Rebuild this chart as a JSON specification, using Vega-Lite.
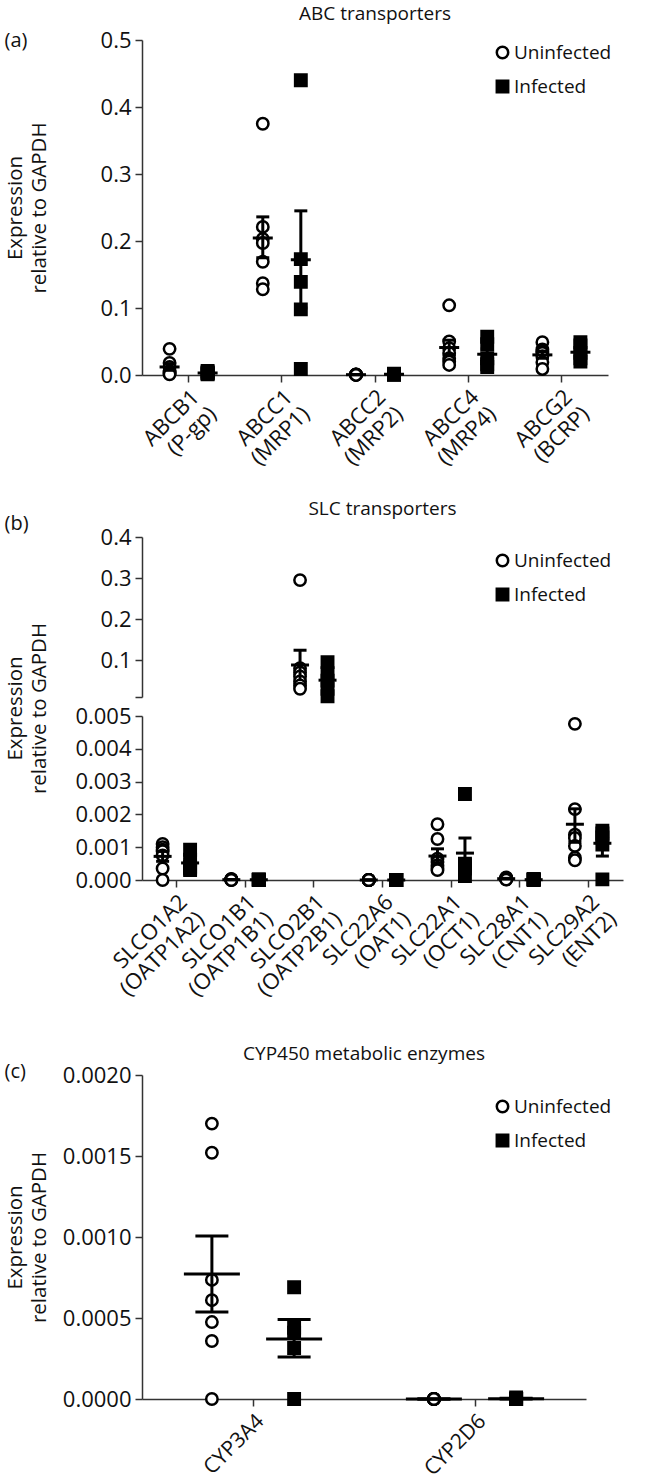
{
  "$schema": "https://vega.github.io/schema/vega-lite/v6.json",
  "padding": {"left": 4, "top": 5, "right": 5, "bottom": 0},
  "config": {
    "font": "Open Sans",
    "view": {"stroke": null},
    "axis": {"grid": false, "domainColor": "#333", "domainWidth": 1.5, "tickColor": "#333", "tickWidth": 1.5, "tickSize": 7, "labelFontSize": 22, "labelColor": "#111", "labelPadding": 4, "titleFontWeight": "normal", "titleColor": "#111"},
    "title": {"fontSize": 19, "fontWeight": "normal", "color": "#111", "anchor": "middle", "offset": 5},
    "legend": {"symbolSize": 130, "symbolStrokeWidth": 2.5, "symbolStrokeColor": "black", "labelFontSize": 19, "labelColor": "#111", "rowPadding": 11, "labelOffset": 2, "padding": 0}
  },
  "datasets": {
    "a": [
      {"gene": "ABCB1\n(P-gp)", "group": "Uninfected", "value": 0.039},
      {"gene": "ABCB1\n(P-gp)", "group": "Uninfected", "value": 0.018},
      {"gene": "ABCB1\n(P-gp)", "group": "Uninfected", "value": 0.012},
      {"gene": "ABCB1\n(P-gp)", "group": "Uninfected", "value": 0.006},
      {"gene": "ABCB1\n(P-gp)", "group": "Uninfected", "value": 0.004},
      {"gene": "ABCB1\n(P-gp)", "group": "Uninfected", "value": 0.002},
      {"gene": "ABCB1\n(P-gp)", "group": "Uninfected", "value": 0.001},
      {"gene": "ABCB1\n(P-gp)", "group": "Infected", "value": 0.006},
      {"gene": "ABCB1\n(P-gp)", "group": "Infected", "value": 0.004},
      {"gene": "ABCB1\n(P-gp)", "group": "Infected", "value": 0.003},
      {"gene": "ABCB1\n(P-gp)", "group": "Infected", "value": 0.002},
      {"gene": "ABCB1\n(P-gp)", "group": "Infected", "value": 0.001},
      {"gene": "ABCC1\n(MRP1)", "group": "Uninfected", "value": 0.375},
      {"gene": "ABCC1\n(MRP1)", "group": "Uninfected", "value": 0.221},
      {"gene": "ABCC1\n(MRP1)", "group": "Uninfected", "value": 0.203},
      {"gene": "ABCC1\n(MRP1)", "group": "Uninfected", "value": 0.197},
      {"gene": "ABCC1\n(MRP1)", "group": "Uninfected", "value": 0.169},
      {"gene": "ABCC1\n(MRP1)", "group": "Uninfected", "value": 0.137},
      {"gene": "ABCC1\n(MRP1)", "group": "Uninfected", "value": 0.128},
      {"gene": "ABCC1\n(MRP1)", "group": "Infected", "value": 0.44},
      {"gene": "ABCC1\n(MRP1)", "group": "Infected", "value": 0.173},
      {"gene": "ABCC1\n(MRP1)", "group": "Infected", "value": 0.139},
      {"gene": "ABCC1\n(MRP1)", "group": "Infected", "value": 0.098},
      {"gene": "ABCC1\n(MRP1)", "group": "Infected", "value": 0.009},
      {"gene": "ABCC2\n(MRP2)", "group": "Uninfected", "value": 0.001},
      {"gene": "ABCC2\n(MRP2)", "group": "Uninfected", "value": 0.001},
      {"gene": "ABCC2\n(MRP2)", "group": "Uninfected", "value": 0.0005},
      {"gene": "ABCC2\n(MRP2)", "group": "Uninfected", "value": 0.0005},
      {"gene": "ABCC2\n(MRP2)", "group": "Uninfected", "value": 0.0003},
      {"gene": "ABCC2\n(MRP2)", "group": "Uninfected", "value": 0.0002},
      {"gene": "ABCC2\n(MRP2)", "group": "Uninfected", "value": 0.0001},
      {"gene": "ABCC2\n(MRP2)", "group": "Infected", "value": 0.002},
      {"gene": "ABCC2\n(MRP2)", "group": "Infected", "value": 0.0015},
      {"gene": "ABCC2\n(MRP2)", "group": "Infected", "value": 0.001},
      {"gene": "ABCC2\n(MRP2)", "group": "Infected", "value": 0.0005},
      {"gene": "ABCC2\n(MRP2)", "group": "Infected", "value": 0.0003},
      {"gene": "ABCC4\n(MRP4)", "group": "Uninfected", "value": 0.104},
      {"gene": "ABCC4\n(MRP4)", "group": "Uninfected", "value": 0.05},
      {"gene": "ABCC4\n(MRP4)", "group": "Uninfected", "value": 0.04},
      {"gene": "ABCC4\n(MRP4)", "group": "Uninfected", "value": 0.033},
      {"gene": "ABCC4\n(MRP4)", "group": "Uninfected", "value": 0.025},
      {"gene": "ABCC4\n(MRP4)", "group": "Uninfected", "value": 0.02},
      {"gene": "ABCC4\n(MRP4)", "group": "Uninfected", "value": 0.015},
      {"gene": "ABCC4\n(MRP4)", "group": "Infected", "value": 0.057},
      {"gene": "ABCC4\n(MRP4)", "group": "Infected", "value": 0.046},
      {"gene": "ABCC4\n(MRP4)", "group": "Infected", "value": 0.025},
      {"gene": "ABCC4\n(MRP4)", "group": "Infected", "value": 0.016},
      {"gene": "ABCC4\n(MRP4)", "group": "Infected", "value": 0.012},
      {"gene": "ABCG2\n(BCRP)", "group": "Uninfected", "value": 0.049},
      {"gene": "ABCG2\n(BCRP)", "group": "Uninfected", "value": 0.038},
      {"gene": "ABCG2\n(BCRP)", "group": "Uninfected", "value": 0.035},
      {"gene": "ABCG2\n(BCRP)", "group": "Uninfected", "value": 0.033},
      {"gene": "ABCG2\n(BCRP)", "group": "Uninfected", "value": 0.028},
      {"gene": "ABCG2\n(BCRP)", "group": "Uninfected", "value": 0.019},
      {"gene": "ABCG2\n(BCRP)", "group": "Uninfected", "value": 0.009},
      {"gene": "ABCG2\n(BCRP)", "group": "Infected", "value": 0.049},
      {"gene": "ABCG2\n(BCRP)", "group": "Infected", "value": 0.044},
      {"gene": "ABCG2\n(BCRP)", "group": "Infected", "value": 0.033},
      {"gene": "ABCG2\n(BCRP)", "group": "Infected", "value": 0.025},
      {"gene": "ABCG2\n(BCRP)", "group": "Infected", "value": 0.02}
    ],
    "a_s": [
      {"gene": "ABCB1\n(P-gp)", "group": "Uninfected", "mean": 0.012, "lo": 0.007, "hi": 0.017},
      {"gene": "ABCB1\n(P-gp)", "group": "Infected", "mean": 0.003, "lo": 0.002, "hi": 0.004},
      {"gene": "ABCC1\n(MRP1)", "group": "Uninfected", "mean": 0.2045, "lo": 0.175, "hi": 0.236},
      {"gene": "ABCC1\n(MRP1)", "group": "Infected", "mean": 0.172, "lo": 0.1, "hi": 0.245},
      {"gene": "ABCC2\n(MRP2)", "group": "Uninfected", "mean": 0.0005, "lo": 0.0003, "hi": 0.0007},
      {"gene": "ABCC2\n(MRP2)", "group": "Infected", "mean": 0.001, "lo": 0.0007, "hi": 0.0013},
      {"gene": "ABCC4\n(MRP4)", "group": "Uninfected", "mean": 0.041, "lo": 0.03, "hi": 0.052},
      {"gene": "ABCC4\n(MRP4)", "group": "Infected", "mean": 0.031, "lo": 0.023, "hi": 0.039},
      {"gene": "ABCG2\n(BCRP)", "group": "Uninfected", "mean": 0.03, "lo": 0.025, "hi": 0.035},
      {"gene": "ABCG2\n(BCRP)", "group": "Infected", "mean": 0.034, "lo": 0.029, "hi": 0.04}
    ],
    "b": [
      {"gene": "SLCO1A2\n(OATP1A2)", "group": "Uninfected", "value": 0.0011},
      {"gene": "SLCO1A2\n(OATP1A2)", "group": "Uninfected", "value": 0.001},
      {"gene": "SLCO1A2\n(OATP1A2)", "group": "Uninfected", "value": 0.00092},
      {"gene": "SLCO1A2\n(OATP1A2)", "group": "Uninfected", "value": 0.00088},
      {"gene": "SLCO1A2\n(OATP1A2)", "group": "Uninfected", "value": 0.00075},
      {"gene": "SLCO1A2\n(OATP1A2)", "group": "Uninfected", "value": 0.00035},
      {"gene": "SLCO1A2\n(OATP1A2)", "group": "Uninfected", "value": 0.0},
      {"gene": "SLCO1A2\n(OATP1A2)", "group": "Infected", "value": 0.00092},
      {"gene": "SLCO1A2\n(OATP1A2)", "group": "Infected", "value": 0.00062},
      {"gene": "SLCO1A2\n(OATP1A2)", "group": "Infected", "value": 0.0004},
      {"gene": "SLCO1A2\n(OATP1A2)", "group": "Infected", "value": 0.00035},
      {"gene": "SLCO1A2\n(OATP1A2)", "group": "Infected", "value": 0.0003},
      {"gene": "SLCO1B1\n(OATP1B1)", "group": "Uninfected", "value": 0.00003},
      {"gene": "SLCO1B1\n(OATP1B1)", "group": "Uninfected", "value": 0.00002},
      {"gene": "SLCO1B1\n(OATP1B1)", "group": "Uninfected", "value": 0.00002},
      {"gene": "SLCO1B1\n(OATP1B1)", "group": "Uninfected", "value": 0.00001},
      {"gene": "SLCO1B1\n(OATP1B1)", "group": "Uninfected", "value": 0.00001},
      {"gene": "SLCO1B1\n(OATP1B1)", "group": "Uninfected", "value": 0.0},
      {"gene": "SLCO1B1\n(OATP1B1)", "group": "Uninfected", "value": 0.0},
      {"gene": "SLCO1B1\n(OATP1B1)", "group": "Infected", "value": 0.00002},
      {"gene": "SLCO1B1\n(OATP1B1)", "group": "Infected", "value": 0.00001},
      {"gene": "SLCO1B1\n(OATP1B1)", "group": "Infected", "value": 0.00001},
      {"gene": "SLCO1B1\n(OATP1B1)", "group": "Infected", "value": 0.0},
      {"gene": "SLCO1B1\n(OATP1B1)", "group": "Infected", "value": 0.0},
      {"gene": "SLCO2B1\n(OATP2B1)", "group": "Uninfected", "value": 0.295},
      {"gene": "SLCO2B1\n(OATP2B1)", "group": "Uninfected", "value": 0.08},
      {"gene": "SLCO2B1\n(OATP2B1)", "group": "Uninfected", "value": 0.07},
      {"gene": "SLCO2B1\n(OATP2B1)", "group": "Uninfected", "value": 0.06},
      {"gene": "SLCO2B1\n(OATP2B1)", "group": "Uninfected", "value": 0.048},
      {"gene": "SLCO2B1\n(OATP2B1)", "group": "Uninfected", "value": 0.038},
      {"gene": "SLCO2B1\n(OATP2B1)", "group": "Uninfected", "value": 0.03},
      {"gene": "SLCO2B1\n(OATP2B1)", "group": "Infected", "value": 0.095},
      {"gene": "SLCO2B1\n(OATP2B1)", "group": "Infected", "value": 0.068},
      {"gene": "SLCO2B1\n(OATP2B1)", "group": "Infected", "value": 0.05},
      {"gene": "SLCO2B1\n(OATP2B1)", "group": "Infected", "value": 0.03},
      {"gene": "SLCO2B1\n(OATP2B1)", "group": "Infected", "value": 0.012},
      {"gene": "SLC22A6\n(OAT1)", "group": "Uninfected", "value": 0.0},
      {"gene": "SLC22A6\n(OAT1)", "group": "Uninfected", "value": 0.0},
      {"gene": "SLC22A6\n(OAT1)", "group": "Uninfected", "value": 0.0},
      {"gene": "SLC22A6\n(OAT1)", "group": "Uninfected", "value": 0.0},
      {"gene": "SLC22A6\n(OAT1)", "group": "Uninfected", "value": 0.0},
      {"gene": "SLC22A6\n(OAT1)", "group": "Uninfected", "value": 0.0},
      {"gene": "SLC22A6\n(OAT1)", "group": "Uninfected", "value": 0.0},
      {"gene": "SLC22A6\n(OAT1)", "group": "Infected", "value": 0.0},
      {"gene": "SLC22A6\n(OAT1)", "group": "Infected", "value": 0.0},
      {"gene": "SLC22A6\n(OAT1)", "group": "Infected", "value": 0.0},
      {"gene": "SLC22A6\n(OAT1)", "group": "Infected", "value": 0.0},
      {"gene": "SLC22A6\n(OAT1)", "group": "Infected", "value": 0.0},
      {"gene": "SLC22A1\n(OCT1)", "group": "Uninfected", "value": 0.0017},
      {"gene": "SLC22A1\n(OCT1)", "group": "Uninfected", "value": 0.00125},
      {"gene": "SLC22A1\n(OCT1)", "group": "Uninfected", "value": 0.00065},
      {"gene": "SLC22A1\n(OCT1)", "group": "Uninfected", "value": 0.00055},
      {"gene": "SLC22A1\n(OCT1)", "group": "Uninfected", "value": 0.00045},
      {"gene": "SLC22A1\n(OCT1)", "group": "Uninfected", "value": 0.00035},
      {"gene": "SLC22A1\n(OCT1)", "group": "Uninfected", "value": 0.0003},
      {"gene": "SLC22A1\n(OCT1)", "group": "Infected", "value": 0.00262},
      {"gene": "SLC22A1\n(OCT1)", "group": "Infected", "value": 0.0005},
      {"gene": "SLC22A1\n(OCT1)", "group": "Infected", "value": 0.00045},
      {"gene": "SLC22A1\n(OCT1)", "group": "Infected", "value": 0.00035},
      {"gene": "SLC22A1\n(OCT1)", "group": "Infected", "value": 0.00012},
      {"gene": "SLC28A1\n(CNT1)", "group": "Uninfected", "value": 0.00008},
      {"gene": "SLC28A1\n(CNT1)", "group": "Uninfected", "value": 0.00006},
      {"gene": "SLC28A1\n(CNT1)", "group": "Uninfected", "value": 0.00005},
      {"gene": "SLC28A1\n(CNT1)", "group": "Uninfected", "value": 0.00004},
      {"gene": "SLC28A1\n(CNT1)", "group": "Uninfected", "value": 0.00003},
      {"gene": "SLC28A1\n(CNT1)", "group": "Uninfected", "value": 0.00002},
      {"gene": "SLC28A1\n(CNT1)", "group": "Uninfected", "value": 0.00001},
      {"gene": "SLC28A1\n(CNT1)", "group": "Infected", "value": 0.00003},
      {"gene": "SLC28A1\n(CNT1)", "group": "Infected", "value": 0.00002},
      {"gene": "SLC28A1\n(CNT1)", "group": "Infected", "value": 0.00001},
      {"gene": "SLC28A1\n(CNT1)", "group": "Infected", "value": 0.00001},
      {"gene": "SLC28A1\n(CNT1)", "group": "Infected", "value": 0.0},
      {"gene": "SLC29A2\n(ENT2)", "group": "Uninfected", "value": 0.00476},
      {"gene": "SLC29A2\n(ENT2)", "group": "Uninfected", "value": 0.00216},
      {"gene": "SLC29A2\n(ENT2)", "group": "Uninfected", "value": 0.00138},
      {"gene": "SLC29A2\n(ENT2)", "group": "Uninfected", "value": 0.00128},
      {"gene": "SLC29A2\n(ENT2)", "group": "Uninfected", "value": 0.00104},
      {"gene": "SLC29A2\n(ENT2)", "group": "Uninfected", "value": 0.00068},
      {"gene": "SLC29A2\n(ENT2)", "group": "Uninfected", "value": 0.0006},
      {"gene": "SLC29A2\n(ENT2)", "group": "Infected", "value": 0.0015},
      {"gene": "SLC29A2\n(ENT2)", "group": "Infected", "value": 0.00142},
      {"gene": "SLC29A2\n(ENT2)", "group": "Infected", "value": 0.0013},
      {"gene": "SLC29A2\n(ENT2)", "group": "Infected", "value": 0.00108},
      {"gene": "SLC29A2\n(ENT2)", "group": "Infected", "value": 0.00002}
    ],
    "b_s": [
      {"gene": "SLCO1A2\n(OATP1A2)", "group": "Uninfected", "mean": 0.00072, "lo": 0.00057, "hi": 0.00087},
      {"gene": "SLCO1A2\n(OATP1A2)", "group": "Infected", "mean": 0.00052, "lo": 0.0004, "hi": 0.00063},
      {"gene": "SLCO1B1\n(OATP1B1)", "group": "Uninfected", "mean": 0.00001, "lo": 0.000005, "hi": 0.000015},
      {"gene": "SLCO1B1\n(OATP1B1)", "group": "Infected", "mean": 0.000008, "lo": 0.000004, "hi": 0.000012},
      {"gene": "SLCO2B1\n(OATP2B1)", "group": "Uninfected", "mean": 0.088, "lo": 0.053, "hi": 0.124},
      {"gene": "SLCO2B1\n(OATP2B1)", "group": "Infected", "mean": 0.051, "lo": 0.0365, "hi": 0.0655},
      {"gene": "SLC22A6\n(OAT1)", "group": "Uninfected", "mean": 0.0, "lo": 0.0, "hi": 0.0},
      {"gene": "SLC22A6\n(OAT1)", "group": "Infected", "mean": 0.0, "lo": 0.0, "hi": 0.0},
      {"gene": "SLC22A1\n(OCT1)", "group": "Uninfected", "mean": 0.00073, "lo": 0.00053, "hi": 0.00095},
      {"gene": "SLC22A1\n(OCT1)", "group": "Infected", "mean": 0.00082, "lo": 0.00036, "hi": 0.00128},
      {"gene": "SLC28A1\n(CNT1)", "group": "Uninfected", "mean": 0.00004, "lo": 0.00003, "hi": 0.00005},
      {"gene": "SLC28A1\n(CNT1)", "group": "Infected", "mean": 0.00001, "lo": 0.000005, "hi": 0.000015},
      {"gene": "SLC29A2\n(ENT2)", "group": "Uninfected", "mean": 0.0017, "lo": 0.00115, "hi": 0.00217},
      {"gene": "SLC29A2\n(ENT2)", "group": "Infected", "mean": 0.00112, "lo": 0.00073, "hi": 0.0015}
    ],
    "c": [
      {"gene": "CYP3A4", "group": "Uninfected", "value": 0.0017},
      {"gene": "CYP3A4", "group": "Uninfected", "value": 0.00152},
      {"gene": "CYP3A4", "group": "Uninfected", "value": 0.000735},
      {"gene": "CYP3A4", "group": "Uninfected", "value": 0.00061},
      {"gene": "CYP3A4", "group": "Uninfected", "value": 0.000475},
      {"gene": "CYP3A4", "group": "Uninfected", "value": 0.000358},
      {"gene": "CYP3A4", "group": "Uninfected", "value": 0.0},
      {"gene": "CYP3A4", "group": "Infected", "value": 0.00069},
      {"gene": "CYP3A4", "group": "Infected", "value": 0.00044},
      {"gene": "CYP3A4", "group": "Infected", "value": 0.00041},
      {"gene": "CYP3A4", "group": "Infected", "value": 0.000315},
      {"gene": "CYP3A4", "group": "Infected", "value": 0.0},
      {"gene": "CYP2D6", "group": "Uninfected", "value": 0.0},
      {"gene": "CYP2D6", "group": "Uninfected", "value": 0.0},
      {"gene": "CYP2D6", "group": "Uninfected", "value": 0.0},
      {"gene": "CYP2D6", "group": "Uninfected", "value": 0.0},
      {"gene": "CYP2D6", "group": "Uninfected", "value": 0.0},
      {"gene": "CYP2D6", "group": "Uninfected", "value": 0.0},
      {"gene": "CYP2D6", "group": "Uninfected", "value": 0.0},
      {"gene": "CYP2D6", "group": "Infected", "value": 0.00001},
      {"gene": "CYP2D6", "group": "Infected", "value": 0.0},
      {"gene": "CYP2D6", "group": "Infected", "value": 0.0},
      {"gene": "CYP2D6", "group": "Infected", "value": 0.0},
      {"gene": "CYP2D6", "group": "Infected", "value": 0.0}
    ],
    "c_s": [
      {"gene": "CYP3A4", "group": "Uninfected", "mean": 0.000771, "lo": 0.000537, "hi": 0.001006},
      {"gene": "CYP3A4", "group": "Infected", "mean": 0.000371, "lo": 0.00026, "hi": 0.00049},
      {"gene": "CYP2D6", "group": "Uninfected", "mean": 0.0, "lo": 0.0, "hi": 0.0},
      {"gene": "CYP2D6", "group": "Infected", "mean": 0.000002, "lo": 0.0, "hi": 0.000004}
    ]
  },
  "spacing": 162,
  "bounds": "flush",
  "resolve": {"scale": {"x": "independent", "y": "independent", "xOffset": "independent", "fill": "independent", "shape": "independent", "stroke": "independent"}, "legend": {"fill": "independent", "shape": "independent", "stroke": "independent"}},
  "vconcat": [
    {
      "width": 466, "height": 335,
      "title": {"text": "ABC transporters"},
      "layer": [
        {
          "data": {"name": "a"},
          "mark": {"type": "point", "size": 130, "strokeWidth": 2.5, "opacity": 1},
          "encoding": {
            "x": {"field": "gene", "type": "nominal", "sort": null, "scale": {"type": "band", "domain": ["ABCB1\n(P-gp)", "ABCC1\n(MRP1)", "ABCC2\n(MRP2)", "ABCC4\n(MRP4)", "ABCG2\n(BCRP)"], "paddingInner": 0, "paddingOuter": 0},
              "axis": {"labelAngle": -45, "labelAlign": "right", "labelBaseline": "top", "labelExpr": "split(datum.label, '\\n')", "labelLineHeight": 24, "title": "(a)", "titleX": -138, "titleY": -335, "titleAngle": 0, "titleAlign": "left", "titleBaseline": "middle", "titleFontSize": 20}},
            "xOffset": {"field": "group", "type": "nominal", "scale": {"domain": ["Uninfected", "Infected"], "paddingOuter": 0.225, "paddingInner": 0}},
            "y": {"field": "value", "type": "quantitative", "scale": {"domain": [0, 0.5], "nice": false},
              "axis": {"values": [0, 0.1, 0.2, 0.3, 0.4, 0.5], "format": ".1f", "title": ["Expression", "relative to GAPDH"], "titleX": -137, "titleY": 167.5, "titleBaseline": "top", "titleAlign": "center", "titleFontSize": 20.5, "titleLineHeight": 24}},
            "fill": {"field": "group", "type": "nominal", "scale": {"domain": ["Uninfected", "Infected"], "range": ["white", "black"]}, "legend": {"orient": "none", "legendX": 351, "legendY": 3, "title": null}},
            "shape": {"field": "group", "type": "nominal", "scale": {"domain": ["Uninfected", "Infected"], "range": ["circle", "square"]}, "legend": {"orient": "none", "legendX": 351, "legendY": 3, "title": null}},
            "stroke": {"field": "group", "type": "nominal", "scale": {"domain": ["Uninfected", "Infected"], "range": ["black", "black"]}, "legend": {"orient": "none", "legendX": 351, "legendY": 3, "title": null}}
          }
        },
        {
          "data": {"name": "a_s"},
          "mark": {"type": "rule", "strokeWidth": 3, "color": "black"},
          "encoding": {
            "x": {"field": "gene", "type": "nominal", "sort": null},
            "xOffset": {"field": "group", "type": "nominal"},
            "y": {"field": "lo", "type": "quantitative"},
            "y2": {"field": "hi"}
          }
        },
        {
          "data": {"name": "a_s"},
          "mark": {"type": "tick", "size": 20, "thickness": 3, "color": "black", "opacity": 1},
          "encoding": {
            "x": {"field": "gene", "type": "nominal", "sort": null},
            "xOffset": {"field": "group", "type": "nominal"},
            "y": {"field": "mean", "type": "quantitative"}
          }
        },
        {
          "data": {"name": "a_s"},
          "mark": {"type": "tick", "size": 13, "thickness": 3, "color": "black", "opacity": 1},
          "encoding": {
            "x": {"field": "gene", "type": "nominal", "sort": null},
            "xOffset": {"field": "group", "type": "nominal"},
            "y": {"field": "lo", "type": "quantitative"}
          }
        },
        {
          "data": {"name": "a_s"},
          "mark": {"type": "tick", "size": 13, "thickness": 3, "color": "black", "opacity": 1},
          "encoding": {
            "x": {"field": "gene", "type": "nominal", "sort": null},
            "xOffset": {"field": "group", "type": "nominal"},
            "y": {"field": "hi", "type": "quantitative"}
          }
        }
      ]
    },
    {
      "width": 481, "height": 343,
      "title": {"text": "SLC transporters", "offset": -6},
      "resolve": {"scale": {"y": "independent"}, "axis": {"y": "independent"}},
      "layer": [
        {
          "layer": [
            {
              "data": {"name": "b"},
              "transform": [{"filter": "datum.value >= 0.01"}],
              "mark": {"type": "point", "size": 130, "strokeWidth": 2.5, "opacity": 1},
              "encoding": {
                "x": {"field": "gene", "type": "nominal", "sort": null},
                "xOffset": {"field": "group", "type": "nominal"},
                "y": {"field": "value", "type": "quantitative", "scale": {"domain": [0.01, 0.4], "range": [160, 0], "nice": false, "zero": false},
                  "axis": {"orient": "left", "values": [0.01, 0.1, 0.2, 0.3, 0.4], "labelExpr": "datum.value < 0.05 ? '' : format(datum.value, '.1f')", "title": null}},
                "fill": {"field": "group", "type": "nominal", "scale": {"domain": ["Uninfected", "Infected"], "range": ["white", "black"]}, "legend": {"orient": "none", "legendX": 351, "legendY": 14, "title": null}},
                "shape": {"field": "group", "type": "nominal", "scale": {"domain": ["Uninfected", "Infected"], "range": ["circle", "square"]}, "legend": {"orient": "none", "legendX": 351, "legendY": 14, "title": null}},
                "stroke": {"field": "group", "type": "nominal", "scale": {"domain": ["Uninfected", "Infected"], "range": ["black", "black"]}, "legend": {"orient": "none", "legendX": 351, "legendY": 14, "title": null}}
              }
            },
            {
              "data": {"name": "b_s"},
              "transform": [{"filter": "datum.mean >= 0.01"}],
              "mark": {"type": "rule", "strokeWidth": 3, "color": "black"},
              "encoding": {
                "x": {"field": "gene", "type": "nominal", "sort": null},
                "xOffset": {"field": "group", "type": "nominal"},
                "y": {"field": "lo", "type": "quantitative"},
                "y2": {"field": "hi"}
              }
            },
            {
              "data": {"name": "b_s"},
              "transform": [{"filter": "datum.mean >= 0.01"}],
              "mark": {"type": "tick", "size": 18, "thickness": 3, "color": "black", "opacity": 1},
              "encoding": {
                "x": {"field": "gene", "type": "nominal", "sort": null},
                "xOffset": {"field": "group", "type": "nominal"},
                "y": {"field": "mean", "type": "quantitative"}
              }
            },
            {
              "data": {"name": "b_s"},
              "transform": [{"filter": "datum.mean >= 0.01"}],
              "mark": {"type": "tick", "size": 13, "thickness": 3, "color": "black", "opacity": 1},
              "encoding": {
                "x": {"field": "gene", "type": "nominal", "sort": null},
                "xOffset": {"field": "group", "type": "nominal"},
                "y": {"field": "hi", "type": "quantitative"}
              }
            }
          ]
        },
        {
          "layer": [
            {
              "data": {"name": "b"},
              "transform": [{"filter": "datum.value <= 0.005"}],
              "mark": {"type": "point", "size": 130, "strokeWidth": 2.5, "opacity": 1},
              "encoding": {
                "x": {"field": "gene", "type": "nominal", "sort": null, "scale": {"type": "band", "domain": ["SLCO1A2\n(OATP1A2)", "SLCO1B1\n(OATP1B1)", "SLCO2B1\n(OATP2B1)", "SLC22A6\n(OAT1)", "SLC22A1\n(OCT1)", "SLC28A1\n(CNT1)", "SLC29A2\n(ENT2)"], "paddingInner": 0, "paddingOuter": 0},
                  "axis": {"labelAngle": -45, "labelAlign": "right", "labelBaseline": "top", "labelExpr": "split(datum.label, '\\n')", "labelLineHeight": 24, "title": "(b)", "titleX": -138, "titleY": -357, "titleAngle": 0, "titleAlign": "left", "titleBaseline": "middle", "titleFontSize": 20}},
                "xOffset": {"field": "group", "type": "nominal", "scale": {"domain": ["Uninfected", "Infected"], "paddingOuter": 0.25, "paddingInner": 0}},
                "y": {"field": "value", "type": "quantitative", "scale": {"domain": [0, 0.005], "range": [343, 179], "nice": false},
                  "axis": {"orient": "left", "values": [0, 0.001, 0.002, 0.003, 0.004, 0.005], "format": ".3f", "title": ["Expression", "relative to GAPDH"], "titleX": -137, "titleY": 171, "titleBaseline": "top", "titleAlign": "center", "titleFontSize": 20.5, "titleLineHeight": 24}},
                "fill": {"field": "group", "type": "nominal", "scale": {"domain": ["Uninfected", "Infected"], "range": ["white", "black"]}, "legend": {"orient": "none", "legendX": 351, "legendY": 14, "title": null}},
                "shape": {"field": "group", "type": "nominal", "scale": {"domain": ["Uninfected", "Infected"], "range": ["circle", "square"]}, "legend": {"orient": "none", "legendX": 351, "legendY": 14, "title": null}},
                "stroke": {"field": "group", "type": "nominal", "scale": {"domain": ["Uninfected", "Infected"], "range": ["black", "black"]}, "legend": {"orient": "none", "legendX": 351, "legendY": 14, "title": null}}
              }
            },
            {
              "data": {"name": "b_s"},
              "transform": [{"filter": "datum.mean < 0.01"}],
              "mark": {"type": "rule", "strokeWidth": 3, "color": "black"},
              "encoding": {
                "x": {"field": "gene", "type": "nominal", "sort": null},
                "xOffset": {"field": "group", "type": "nominal"},
                "y": {"field": "lo", "type": "quantitative"},
                "y2": {"field": "hi"}
              }
            },
            {
              "data": {"name": "b_s"},
              "transform": [{"filter": "datum.mean < 0.01"}],
              "mark": {"type": "tick", "size": 18, "thickness": 3, "color": "black", "opacity": 1},
              "encoding": {
                "x": {"field": "gene", "type": "nominal", "sort": null},
                "xOffset": {"field": "group", "type": "nominal"},
                "y": {"field": "mean", "type": "quantitative"}
              }
            },
            {
              "data": {"name": "b_s"},
              "transform": [{"filter": "datum.mean < 0.01"}],
              "mark": {"type": "tick", "size": 13, "thickness": 3, "color": "black", "opacity": 1},
              "encoding": {
                "x": {"field": "gene", "type": "nominal", "sort": null},
                "xOffset": {"field": "group", "type": "nominal"},
                "y": {"field": "lo", "type": "quantitative"}
              }
            },
            {
              "data": {"name": "b_s"},
              "transform": [{"filter": "datum.mean < 0.01"}],
              "mark": {"type": "tick", "size": 13, "thickness": 3, "color": "black", "opacity": 1},
              "encoding": {
                "x": {"field": "gene", "type": "nominal", "sort": null},
                "xOffset": {"field": "group", "type": "nominal"},
                "y": {"field": "hi", "type": "quantitative"}
              }
            }
          ]
        }
      ]
    },
    {
      "width": 444, "height": 357,
      "title": {"text": "CYP450 metabolic enzymes", "offset": -22},
      "layer": [
        {
          "data": {"name": "c"},
          "mark": {"type": "point", "size": 130, "strokeWidth": 2.5, "opacity": 1},
          "encoding": {
            "x": {"field": "gene", "type": "nominal", "sort": null, "scale": {"type": "band", "domain": ["CYP3A4", "CYP2D6"], "paddingInner": 0, "paddingOuter": 0},
              "axis": {"labelAngle": -45, "labelAlign": "right", "labelBaseline": "top", "labelFontSize": 21, "title": "(c)", "titleX": -138, "titleY": -328, "titleAngle": 0, "titleAlign": "left", "titleBaseline": "middle", "titleFontSize": 20}},
            "xOffset": {"field": "group", "type": "nominal", "scale": {"domain": ["Uninfected", "Infected"], "paddingOuter": 0.35, "paddingInner": 0}},
            "y": {"field": "value", "type": "quantitative", "scale": {"domain": [0, 0.002], "range": [357, 33], "nice": false},
              "axis": {"values": [0, 0.0005, 0.001, 0.0015, 0.002], "format": ".4f", "title": ["Expression", "relative to GAPDH"], "titleX": -137, "titleY": 195, "titleBaseline": "top", "titleAlign": "center", "titleFontSize": 20.5, "titleLineHeight": 24}},
            "fill": {"field": "group", "type": "nominal", "scale": {"domain": ["Uninfected", "Infected"], "range": ["white", "black"]}, "legend": {"orient": "none", "legendX": 351, "legendY": 55, "title": null}},
            "shape": {"field": "group", "type": "nominal", "scale": {"domain": ["Uninfected", "Infected"], "range": ["circle", "square"]}, "legend": {"orient": "none", "legendX": 351, "legendY": 55, "title": null}},
            "stroke": {"field": "group", "type": "nominal", "scale": {"domain": ["Uninfected", "Infected"], "range": ["black", "black"]}, "legend": {"orient": "none", "legendX": 351, "legendY": 55, "title": null}}
          }
        },
        {
          "data": {"name": "c_s"},
          "mark": {"type": "rule", "strokeWidth": 3, "color": "black"},
          "encoding": {
            "x": {"field": "gene", "type": "nominal", "sort": null},
            "xOffset": {"field": "group", "type": "nominal"},
            "y": {"field": "lo", "type": "quantitative"},
            "y2": {"field": "hi"}
          }
        },
        {
          "data": {"name": "c_s"},
          "mark": {"type": "tick", "size": 56, "thickness": 3, "color": "black", "opacity": 1},
          "encoding": {
            "x": {"field": "gene", "type": "nominal", "sort": null},
            "xOffset": {"field": "group", "type": "nominal"},
            "y": {"field": "mean", "type": "quantitative"}
          }
        },
        {
          "data": {"name": "c_s"},
          "mark": {"type": "tick", "size": 33, "thickness": 3, "color": "black", "opacity": 1},
          "encoding": {
            "x": {"field": "gene", "type": "nominal", "sort": null},
            "xOffset": {"field": "group", "type": "nominal"},
            "y": {"field": "lo", "type": "quantitative"}
          }
        },
        {
          "data": {"name": "c_s"},
          "mark": {"type": "tick", "size": 33, "thickness": 3, "color": "black", "opacity": 1},
          "encoding": {
            "x": {"field": "gene", "type": "nominal", "sort": null},
            "xOffset": {"field": "group", "type": "nominal"},
            "y": {"field": "hi", "type": "quantitative"}
          }
        }
      ]
    }
  ]
}
